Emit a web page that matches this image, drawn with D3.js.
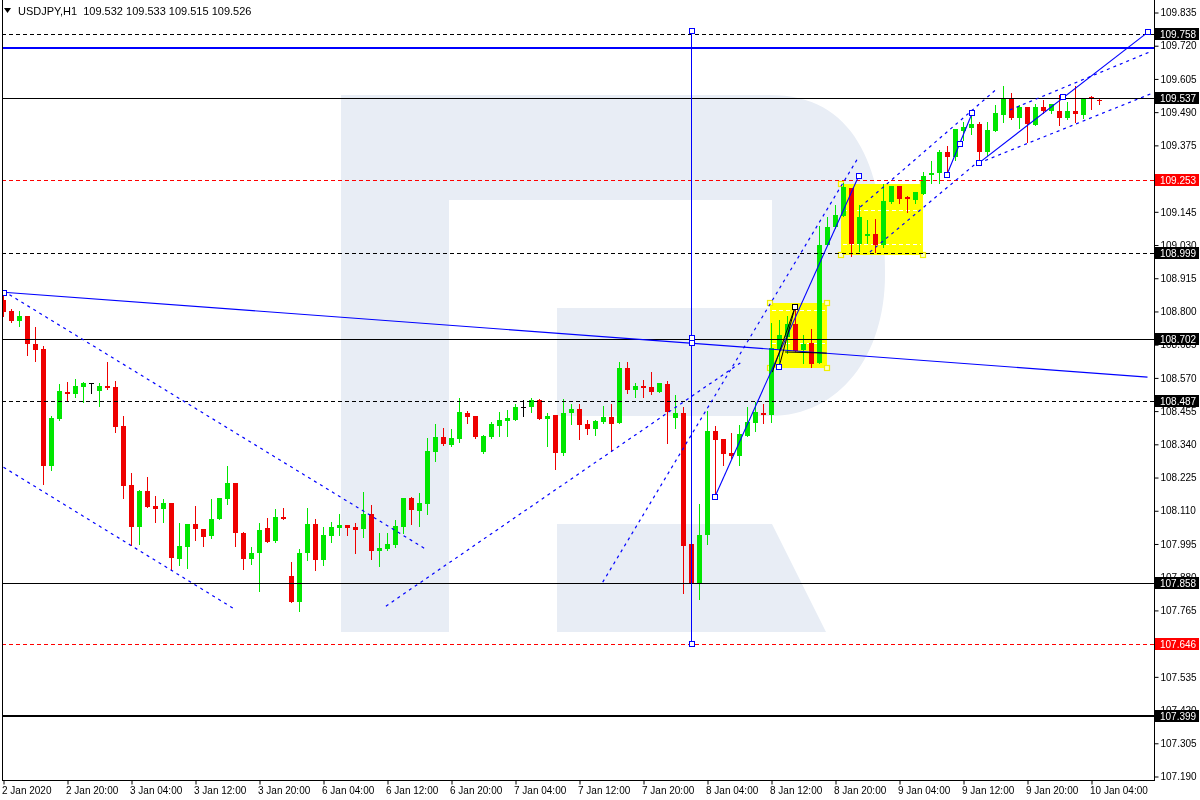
<!DOCTYPE html>
<html><head><meta charset="utf-8">
<script src="https://cdn.jsdelivr.net/npm/d3@7"></script>
<style>
body{margin:0;background:#fff;}
svg{display:block;}
text{font-family:"Liberation Sans",Arial,sans-serif;}
</style>
</head><body>
<svg id="chart" width="1200" height="800"></svg>
<script>
// ---------- DATA ----------
const symbolTitle = "USDJPY,H1  109.532 109.533 109.515 109.526";
const timeLabels = ["2 Jan 2020","2 Jan 20:00","3 Jan 04:00","3 Jan 12:00","3 Jan 20:00","6 Jan 04:00","6 Jan 12:00","6 Jan 20:00","7 Jan 04:00","7 Jan 12:00","7 Jan 20:00","8 Jan 04:00","8 Jan 12:00","8 Jan 20:00","9 Jan 04:00","9 Jan 12:00","9 Jan 20:00","10 Jan 04:00"];
const timeLabelBars = [0,8,16,24,32,40,48,56,64,72,80,88,96,104,112,120,128,136];
const priceTicks = [109.835,109.720,109.605,109.490,109.375,109.260,109.145,109.030,108.915,108.800,108.685,108.570,108.455,108.340,108.225,108.110,107.995,107.880,107.765,107.650,107.535,107.420,107.305,107.190];

const open = [
108.838,108.800,108.765,108.782,108.685,108.668,108.263,108.426,108.519,108.512,
108.536,108.550,108.523,108.540,108.536,108.401,108.197,108.052,108.176,108.124,
108.114,108.135,107.941,107.982,108.062,108.045,108.020,108.079,108.149,108.204,
108.031,107.941,107.962,108.048,108.003,108.086,107.882,107.792,107.962,108.062,
107.937,108.020,108.048,108.059,108.052,108.045,108.097,107.968,107.975,107.989,
108.052,108.152,108.107,108.131,108.311,108.363,108.336,108.356,108.446,108.436,
108.311,108.363,108.401,108.419,108.422,108.467,108.467,108.491,108.426,108.439,
108.308,108.446,108.460,108.408,108.391,108.415,108.433,108.412,108.602,108.526,
108.540,108.536,108.519,108.547,108.429,108.446,107.993,107.858,108.024,108.384,
108.356,108.308,108.297,108.367,108.412,108.446,108.439,108.668,108.710,108.755,
108.665,108.689,108.620,109.028,109.091,109.129,109.226,109.032,109.059,109.066,
109.028,109.177,109.232,109.194,109.184,109.205,109.271,109.278,109.350,109.333,
109.423,109.433,109.447,109.350,109.423,109.478,109.537,109.468,109.506,109.444,
109.506,109.492,109.492,109.468,109.492,109.478,109.541,109.532];
const high = [
108.865,108.807,108.800,108.782,108.744,108.678,108.436,108.547,108.554,108.564,
108.554,108.550,108.550,108.623,108.557,108.436,108.239,108.180,108.225,108.159,
108.149,108.135,108.065,108.062,108.124,108.045,108.149,108.152,108.263,108.204,
108.034,107.982,108.065,108.083,108.114,108.117,107.930,107.975,108.117,108.079,
108.052,108.069,108.097,108.059,108.065,108.173,108.128,108.031,108.031,108.076,
108.152,108.155,108.169,108.360,108.408,108.394,108.391,108.498,108.453,108.436,
108.370,108.415,108.450,108.457,108.478,108.491,108.498,108.495,108.446,108.439,
108.495,108.478,108.478,108.422,108.422,108.471,108.478,108.623,108.623,108.550,
108.561,108.588,108.550,108.557,108.509,108.467,108.065,108.131,108.453,108.401,
108.356,108.377,108.405,108.467,108.485,108.478,108.758,108.768,108.782,108.810,
108.717,108.737,109.094,109.125,109.167,109.243,109.226,109.167,109.115,109.118,
109.239,109.232,109.232,109.198,109.212,109.281,109.319,109.357,109.371,109.430,
109.454,109.496,109.454,109.454,109.513,109.579,109.555,109.513,109.506,109.516,
109.530,109.516,109.548,109.523,109.579,109.537,109.544,109.533];
const low = [
108.782,108.762,108.748,108.647,108.627,108.200,108.249,108.422,108.488,108.502,
108.485,108.516,108.471,108.530,108.381,108.152,107.989,107.993,108.121,108.069,
108.069,107.903,107.920,107.910,108.007,107.986,108.014,108.079,108.131,107.986,
107.906,107.923,107.830,108.000,108.000,108.079,107.792,107.761,107.937,107.903,
107.920,108.000,108.024,108.024,107.962,108.017,107.941,107.917,107.972,107.982,
108.031,108.062,108.055,108.097,108.280,108.336,108.332,108.346,108.412,108.360,
108.308,108.360,108.367,108.367,108.422,108.436,108.450,108.426,108.332,108.252,
108.301,108.408,108.356,108.374,108.370,108.412,108.318,108.412,108.516,108.502,
108.502,108.512,108.519,108.343,108.394,107.823,107.646,107.802,107.993,108.155,
108.266,108.291,108.266,108.367,108.384,108.412,108.415,108.602,108.654,108.661,
108.620,108.606,108.620,109.028,109.087,109.129,108.990,109.007,109.035,109.004,
109.021,109.174,109.174,109.142,109.174,109.205,109.243,109.243,109.264,109.323,
109.392,109.413,109.316,109.340,109.423,109.454,109.465,109.433,109.385,109.444,
109.485,109.485,109.444,109.465,109.454,109.468,109.499,109.515];
const close = [
108.796,108.765,108.782,108.685,108.665,108.263,108.429,108.523,108.512,108.540,
108.550,108.550,108.540,108.533,108.398,108.194,108.052,108.176,108.121,108.114,
108.135,107.944,107.986,108.062,108.045,108.017,108.079,108.152,108.204,108.031,
107.941,107.962,108.041,108.000,108.086,108.079,107.792,107.962,108.062,107.937,
108.024,108.052,108.059,108.048,108.041,108.097,107.968,107.979,107.993,108.055,
108.152,108.110,108.135,108.315,108.363,108.339,108.360,108.450,108.433,108.363,
108.367,108.408,108.422,108.429,108.467,108.467,108.491,108.426,108.436,108.308,
108.446,108.460,108.405,108.391,108.419,108.433,108.408,108.602,108.526,108.540,
108.533,108.519,108.550,108.450,108.446,107.986,107.858,108.024,108.384,108.353,
108.304,108.297,108.374,108.415,108.450,108.439,108.672,108.717,108.755,108.661,
108.685,108.616,109.028,109.091,109.132,109.229,109.032,109.125,109.066,109.028,
109.181,109.232,109.188,109.188,109.212,109.267,109.278,109.350,109.333,109.430,
109.437,109.447,109.350,109.426,109.485,109.537,109.468,109.506,109.447,109.506,
109.492,109.516,109.468,109.492,109.482,109.537,109.534,109.526];

// horizontal levels (price)
const dashedBlackLevels = [109.758, 108.999, 108.487];
const solidBlackLevels = [109.537, 108.702, 107.858];
const thickBlackLevels = [107.399];
const redDashedLevels = [109.253, 107.646];
const blueLevels = [109.711];
const blackLabelLevels = [109.758, 109.537, 108.999, 108.702, 108.487, 107.858, 107.399];
const redLabelLevels = [109.253, 107.646];

// trend lines: [[bar, price],[bar, price]]
const solidBlueLines = [
  [[0,108.865],[143,108.571]],
  [[88.9,108.155],[106.9,109.267]],
  [[117.9,109.270],[121.1,109.486]],
  [[121.9,109.312],[143.1,109.766]]
];
const dottedBlueLines = [
  [[0,108.869],[52.8,107.975]],
  [[0,108.259],[28.7,107.771]],
  [[47.8,107.778],[92.1,108.620]],
  [[74.9,107.861],[106.8,109.329]],
  [[107.1,109.160],[124.3,109.572]],
  [[108.3,109.004],[121.8,109.316]],
  [[121.9,109.312],[143.7,109.555]],
  [[125.8,109.496],[143.3,109.697]]
];
const blackLines = [
  [[96.94,108.606],[98.94,108.813]],
  [[96.1,108.588],[98.94,108.813]],
  [[97.7,108.658],[102.9,108.654]]
];
const verticalLine = [86, 107.646, 109.768];
const blueAnchors = [[0,108.862],[86,109.768],[86,107.646],[86,108.706],[86,108.689],[88.9,108.155],[106.9,109.267],[117.9,109.270],[119.5,109.378],[121.1,109.486],[121.9,109.312],[143.1,109.766],[96.94,108.606],[132.4,109.541]];
const blackAnchors = [[98.94,108.813]];
// yellow rectangles: [bar0, bar1, priceTop, priceBottom]
const yellowBoxes = [[95.8,102.9,108.827,108.602],[104.65,114.9,109.239,108.994]];
const boxInnerLevels = [[108.803,108.689],[109.149,109.032]];

// ---------- DRAW ----------
const svg = d3.select('#chart');
const plotL = 2, plotR = 1154, plotB = 780;
const n = open.length;
const x = d3.scaleLinear().domain([0, n-1]).range([3.5, 3.5 + 8*(n-1)]);
const y = d3.scaleLinear().domain([107.190, 109.835]).range([776, 12]);
const py = p => Math.round(y(p)) + 0.5;
const FONT = '"Liberation Sans",Arial,sans-serif';

svg.append('defs').append('clipPath').attr('id','clip')
  .append('rect').attr('x',plotL).attr('y',0).attr('width',plotR-plotL).attr('height',plotB);

// watermark
const wm = svg.append('g').attr('fill','#e8edf5');
wm.append('path').attr('d','M341,95 L770,95 C860,95 885,175 885,275 C885,355 840,416 770,416 L557,416 L557,308 L772,308 L772,200 L449,200 L449,632 L341,632 Z');
wm.append('path').attr('d','M557,524 L772,524 L826,632 L557,632 Z');

const g = svg.append('g').attr('clip-path','url(#clip)');

// yellow boxes
yellowBoxes.forEach((b,k)=>{
  const x0 = Math.round(x(b[0])), x1 = Math.round(x(b[1]));
  const y0 = Math.round(y(b[2])), y1 = Math.round(y(b[3]));
  g.append('rect').attr('x',x0).attr('y',y0).attr('width',x1-x0).attr('height',y1-y0)
    .attr('fill','#ffff00').style('mix-blend-mode','multiply');
  boxInnerLevels[k].forEach(p=>{
    g.append('line').attr('x1',x0+2).attr('x2',x1-2).attr('y1',py(p)).attr('y2',py(p))
      .attr('stroke','#ffffff').attr('stroke-dasharray','4,3');
  });
  [[x0,y0],[x1,y0],[x0,y1],[x1,y1]].forEach(c=>{
    g.append('rect').attr('x',c[0]-2.5).attr('y',c[1]-2.5).attr('width',5).attr('height',5)
      .attr('fill','#ffffc8').attr('stroke','#f0f000').attr('stroke-width',1.2);
  });
});

// candles
const colorOf = i => close[i] > open[i] ? '#00e600' : (close[i] < open[i] ? '#ee0000' : '#000000');
const cg = g.append('g');
cg.selectAll('line.wick').data(d3.range(n)).join('line')
  .attr('class','wick')
  .attr('x1',i=>x(i)).attr('x2',i=>x(i))
  .attr('y1',i=>Math.round(y(high[i]))).attr('y2',i=>Math.round(y(low[i]))+1)
  .attr('stroke',colorOf).attr('stroke-width',1);
cg.selectAll('rect.body').data(d3.range(n)).join('rect')
  .attr('class','body')
  .attr('x',i=>x(i)-2.5).attr('width',5)
  .attr('y',i=>Math.round(y(Math.max(open[i],close[i]))))
  .attr('height',i=>Math.max(1, Math.round(y(Math.min(open[i],close[i]))) - Math.round(y(Math.max(open[i],close[i])))))
  .attr('fill',colorOf);

// horizontal levels
function hline(p, color, width, dash){
  const yy = width===2 ? Math.round(y(p)) : py(p);
  const l = g.append('line').attr('x1',plotL).attr('x2',plotR).attr('y1',yy).attr('y2',yy)
    .attr('stroke',color).attr('stroke-width',width);
  if (dash) l.attr('stroke-dasharray',dash);
}
dashedBlackLevels.forEach(p=>hline(p,'#000',1,'4,3'));
solidBlackLevels.forEach(p=>hline(p,'#000',1,null));
thickBlackLevels.forEach(p=>hline(p,'#000',2,null));
redDashedLevels.forEach(p=>hline(p,'#ff0000',1,'4,3'));
blueLevels.forEach(p=>hline(p,'#0000ff',2,null));

// trend lines
function seg(s, color, width, dash){
  const l = g.append('line').attr('x1',x(s[0][0])).attr('y1',y(s[0][1]))
    .attr('x2',x(s[1][0])).attr('y2',y(s[1][1]))
    .attr('stroke',color).attr('stroke-width',width);
  if (dash) l.attr('stroke-dasharray',dash);
}
dottedBlueLines.forEach(s=>seg(s,'#0000ff',1.2,'3,4'));
solidBlueLines.forEach(s=>seg(s,'#0000ff',1.1,null));
blackLines.forEach(s=>seg(s,'#000000',1,null));
g.append('line').attr('x1',x(verticalLine[0])).attr('x2',x(verticalLine[0]))
  .attr('y1',y(verticalLine[2])).attr('y2',y(verticalLine[1]))
  .attr('stroke','#0000ff').attr('stroke-width',1);
function anchor(a, color){
  g.append('rect').attr('x',Math.round(x(a[0]))-2.5).attr('y',Math.round(y(a[1]))-2.5)
    .attr('width',5).attr('height',5).attr('fill','#ffffff').attr('stroke',color).attr('stroke-width',1);
}
blueAnchors.forEach(a=>anchor(a,'#0000ff'));
blackAnchors.forEach(a=>anchor(a,'#000000'));

// frame
svg.append('line').attr('x1',plotL+0.5).attr('x2',plotL+0.5).attr('y1',0).attr('y2',plotB+0.5).attr('stroke','#000');
svg.append('line').attr('x1',plotR+0.5).attr('x2',plotR+0.5).attr('y1',0).attr('y2',plotB+0.5).attr('stroke','#000');
svg.append('line').attr('x1',plotL).attr('x2',plotR+1).attr('y1',plotB+0.5).attr('y2',plotB+0.5).attr('stroke','#000');

// price axis
const yAxis = d3.axisRight(y).tickValues(priceTicks).tickSize(4).tickPadding(2).tickFormat(d3.format('.3f'));
const ya = svg.append('g').attr('transform',`translate(${plotR+0.5},0.5)`).call(yAxis);
ya.select('.domain').remove();
ya.selectAll('text').attr('font-size','10px').attr('fill','#000').attr('font-family',FONT);
ya.selectAll('line').attr('stroke','#000');

// highlighted price labels
function priceBox(p, bg){
  const yy = Math.round(y(p));
  svg.append('rect').attr('x',plotR+1).attr('y',yy-6).attr('width',44).attr('height',12).attr('fill',bg);
  svg.append('text').attr('x',plotR+6).attr('y',yy).attr('dy','0.36em')
    .attr('font-size','10px').attr('font-family',FONT).attr('fill','#fff').text(d3.format('.3f')(p));
}
blackLabelLevels.forEach(p=>priceBox(p,'#000'));
redLabelLevels.forEach(p=>priceBox(p,'#ff0000'));

// time axis
const xAxis = d3.axisBottom(x).tickValues(timeLabelBars).tickSize(4).tickPadding(2)
  .tickFormat((d,i)=>timeLabels[i]);
const xa = svg.append('g').attr('transform',`translate(0,${plotB+0.5})`).call(xAxis);
xa.select('.domain').remove();
xa.selectAll('text').attr('text-anchor','start').attr('dx','-2').attr('font-size','10px').attr('fill','#000')
  .attr('font-family',FONT);
xa.selectAll('line').attr('stroke','#000');

// title
svg.append('path').attr('d','M4,8 L11,8 L7.5,13 Z').attr('fill','#000');
svg.append('text').attr('x',18).attr('y',15).attr('font-size','11px').attr('font-family',FONT).attr('fill','#000')
  .style('white-space','pre').text(symbolTitle);
</script>
</body></html>
